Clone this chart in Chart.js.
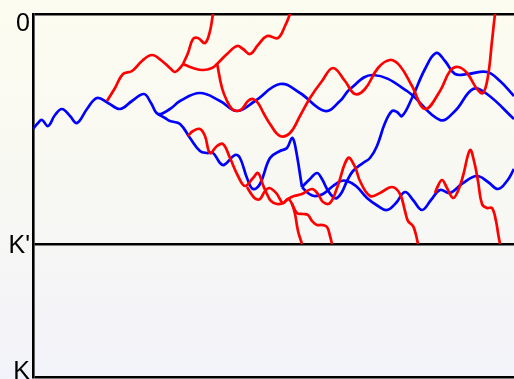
<!DOCTYPE html>
<html>
<head>
<meta charset="utf-8">
<script src="https://cdn.jsdelivr.net/npm/chart.js@4"></script>
<style>
  html, body { margin: 0; padding: 0; }
  body {
    width: 514px; height: 379px; overflow: hidden;
    background: linear-gradient(to bottom, #fcfcf0 0%, #f8f8f3 50%, #f2f2fa 100%);
  }
  #wrap { position: relative; width: 514px; height: 379px; }
</style>
</head>
<body>
<div id="wrap"><canvas id="chart"></canvas></div>
<script>
// Horizontal extent and depth range of the diagram
const X_MAX = 481;
const Y_MAX = 363;

// Depth marks on the vertical axis
const yTickValues = [0, 230, 363];
const yTickLabels = ['0', "K'", 'K'];

// Blue paths, as [position, depth] pairs
const blueMain = [[0,115],[5,109],[9,106],[15,112],[22,101],[29,95],[37,102],[44,109],[54,95],[64,84],[75,89],[87,95],[99,87],[111,80],[118,89],[125,100],
  [137,95],[147,87],[167,79],[187,87],[204,97],[222,87],[247,70],[267,79],[292,97],[307,87],[317,75],[340,61],[374,77],[407,106],[422,97],[440,75],[454,80],[481,105]];
const blueLower = [[125,100],[132,104],[137,107],[147,110],[157,124],[167,137],[174,139],[180,139],[187,149],[191,151],[202,141],[207,144],[214,164],[220,175],[227,170],[237,144],[247,137],[254,134],[259,124],[262,131],[269,173]];
const blueRise = [[269,173],[277,165],[284,159],[289,165],[294,175],[300,183],[304,184],[309,178],[314,167],[320,157],[330,149],[337,144],[344,132],[352,109],[359,97],[364,98],[369,102],[379,84],[392,55],[403,39],[412,47],[422,60],[435,60],[454,58],[467,67],[481,82]];
const blueFlat = [[269,173],[275,179],[281,182],[290,180],[300,172],[308,167],[314,167],[323,172],[334,184],[345,192],[354,196],[363,189],[372,178],[380,186],[389,196],[398,186],[407,176],[417,179],[430,169],[444,162],[455,168],[465,175],[474,167],[481,155]];

// Red paths, as [position, depth] pairs
const redStem = [[74,87],[82,74],[90,60],[99,57],[109,47],[119,41],[129,47],[138,55],[142,58],[147,54],[150,50]];
const redUpLeft = [[150,50],[155,39],[160,25],[165,24],[172,29],[177,17],[180,0],[183,-13]];
const redUpRight = [[150,50],[160,54],[170,56],[179,54],[185,49],[194,40],[204,32],[210,35],[217,40],[225,31],[234,22],[245,24],[252,12],[257,0],[260,-8]];
const redWave = [[184,49],[189,74],[194,87],[199,95],[204,97],[209,95],[215,87],[220,85],[225,89],[231,100],[237,110],[247,122],[257,119],[267,102],[277,84],[289,67],[300,54],[312,67],[322,80],[332,75],[345,54],[357,46],[367,52],[379,72],[392,95],[407,77],[417,57],[425,53],[434,59],[444,75],[450,79],[455,62],[459,27],[462,0],[464,-13]];
const redFall = [[155,122],[160,117],[167,115],[172,122],[177,139],[184,132],[190,130],[197,144],[205,162],[212,172],[220,164],[225,159],[230,171],[234,180],[238,187],[244,190],[250,189],[255,185],[261,182],[269,180],[279,175],[285,180],[290,188],[297,189],[304,174],[315,144],[322,153],[327,167],[337,182],[347,179],[359,173],[367,180],[372,197],[375,207],[380,212],[383,221],[385,230]];
const redSteep = [[214,173],[219,181],[223,185],[227,185],[232,177],[236,174],[240,176],[244,180],[250,189],[255,185],[259,190],[262,200],[265,217],[269,230]];
const redStep = [[259,190],[264,199],[270,200],[275,201],[279,207],[284,211],[289,211],[294,213],[297,222],[299,230]];
const redTail = [[402,179],[404,174],[409,166],[414,174],[420,184],[425,177],[430,162],[437,136],[441,147],[445,167],[449,190],[454,194],[459,194],[463,207],[465,219],[467,230]];

const BLUE = '#0000ff';
const RED = '#ff0000';

const paths = [
  [redStem, RED], [redUpLeft, RED], [redUpRight, RED], [redWave, RED],
  [redFall, RED], [redSteep, RED], [redStep, RED], [redTail, RED],
  [blueMain, BLUE], [blueLower, BLUE], [blueRise, BLUE], [blueFlat, BLUE]
];

const datasets = paths.map(([pts, color]) => ({
  data: pts.map(([x, y]) => ({ x, y })),
  borderColor: color,
  borderWidth: 2.7,
  pointRadius: 0,
  pointHoverRadius: 0,
  showLine: true,
  fill: false,
  tension: 0.4,
  clip: 0
}));

// Axis labels: the first hangs below its line, the middle one is centred, the last sits on it
const depthLabels = {
  id: 'depthLabels',
  afterDraw(chart) {
    const { ctx } = chart;
    const y = chart.scales.y;
    const size = 25;
    const cap = size * 0.716;
    ctx.save();
    ctx.font = size + 'px "Liberation Sans", Arial, sans-serif';
    ctx.fillStyle = '#000';
    ctx.textAlign = 'right';
    ctx.textBaseline = 'alphabetic';
    yTickValues.forEach((v, i) => {
      const py = y.getPixelForValue(v);
      let base;
      if (i === 0) base = py - 1 + cap;
      else if (i === yTickValues.length - 1) base = py + 1.5;
      else base = py + cap / 2;
      ctx.fillText(yTickLabels[i], chart.chartArea.left - 3, base);
    });
    ctx.restore();
  }
};

new Chart(document.getElementById('chart'), {
  type: 'scatter',
  data: { datasets },
  options: {
    responsive: true,
    maintainAspectRatio: false,
    devicePixelRatio: 1,
    animation: false,
    events: [],
    layout: { padding: { top: 14, bottom: 2, left: 0, right: 0 } },
    plugins: { legend: { display: false }, tooltip: { enabled: false } },
    scales: {
      x: { type: 'linear', min: 0, max: X_MAX, display: false },
      y: {
        type: 'linear',
        reverse: true,
        min: 0,
        max: Y_MAX,
        afterBuildTicks: (s) => { s.ticks = yTickValues.map(v => ({ value: v })); },
        afterFit: (s) => { s.width = 33; },
        ticks: { display: false },
        grid: { color: '#000', lineWidth: 2.6, drawTicks: false },
        border: { display: true, color: '#000', width: 2.6 }
      }
    }
  },
  plugins: [depthLabels]
});
</script>
</body>
</html>
